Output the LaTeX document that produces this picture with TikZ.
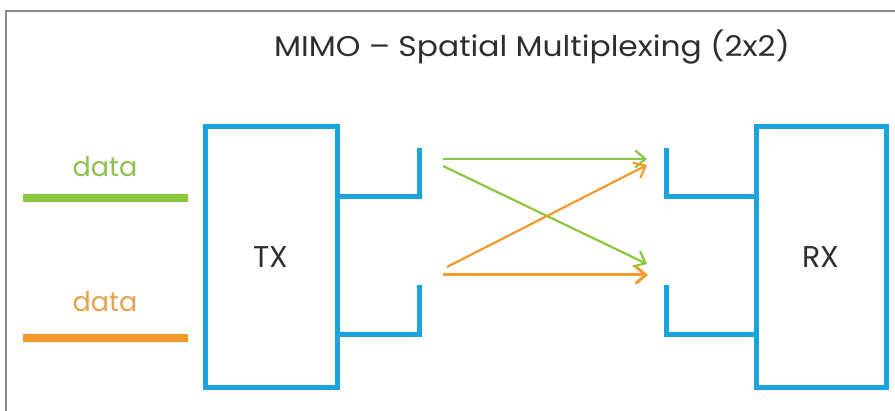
\documentclass[tikz,border=0pt]{standalone}
\usepackage{fontspec}
\setmainfont{Poppins}
\usetikzlibrary{arrows.meta}

\definecolor{boxblue}{HTML}{1CA3DE}
\definecolor{datagreen}{HTML}{8CC63F}
\definecolor{dataorange}{HTML}{F39A2C}
\definecolor{labelgreen}{HTML}{8FC052}
\definecolor{labelorange}{HTML}{E9A14A}
\definecolor{textgray}{HTML}{2E2E2E}
\definecolor{framegray}{HTML}{8C8C8C}

\tikzset{
  unitbox/.style={draw=boxblue, line width=5pt, minimum width=#1, minimum height=261pt,
                  inner sep=0pt, outer sep=0pt, font=\fontsize{30}{32}\selectfont, text=textgray},
  antenna/.style={draw=boxblue, line width=5pt, line join=miter},
  inputline/.style={line width=8pt, line cap=butt},
  datalabel/.style={font=\fontsize{27}{30}\selectfont, inner sep=0pt},
  stream/.style={line width=2.2pt, -{Straight Barb[length=10pt,width=17pt]}},
}

\begin{document}
\begin{tikzpicture}[x=1pt,y=-1pt]
  \useasboundingbox (0,0) rectangle (895,411);
  \fill[white] (0,0) rectangle (895,411);

  % outer frame
  \draw[framegray, line width=1.6pt] (6,411) -- (6,11) -- (895,11);

  % title
  \node[font=\fontsize{28.5}{32}\selectfont, text=textgray, inner sep=0pt, xscale=1.1] (title) at (532,47)
    {MIMO – Spatial Multiplexing (2x2)};

  % transmitter and receiver
  \node[unitbox=132pt] (tx) at (271,257.5) {TX};
  \node[unitbox=130pt] (rx) at (821,257.5) {RX};

  % input data streams
  \coordinate (g0) at (23,198);
  \coordinate (o0) at (23,338);
  \draw[inputline, datagreen] (g0) -- ++(165,0);
  \draw[inputline, dataorange] (o0) -- ++(165,0);
  \node[datalabel, text=labelgreen] (dl1) at (105,167) {data};
  \node[datalabel, text=labelorange] (dl2) at (105,302) {data};

  % transmit antennas
  \coordinate (ta1) at (419,148);
  \coordinate (ta2) at (419,285);
  \draw[antenna] (tx.east |- 0,197) -- (ta1 |- 0,197) -- (ta1);
  \draw[antenna] (tx.east |- 0,335) -- (ta2 |- 0,335) -- (ta2);

  % receive antennas
  \coordinate (ra1) at (666,148);
  \coordinate (ra2) at (666,285);
  \draw[antenna] (rx.west |- 0,197) -- (ra1 |- 0,197) -- (ra1);
  \draw[antenna] (rx.west |- 0,335) -- (ra2 |- 0,335) -- (ra2);

  % spatial streams
  \coordinate (s1) at (443,159);
  \coordinate (s2) at (443,166);
  \coordinate (s3) at (447,267);
  \coordinate (s4) at (443,275);
  \coordinate (e1) at (647,159);
  \coordinate (e2) at (647,264);
  \coordinate (e3) at (647,165);
  \coordinate (e4) at (648,275);
  \draw[stream, datagreen] (s1) -- (e1);
  \draw[stream, datagreen] (s2) -- (e2);
  \draw[stream, dataorange] (s3) -- (e3);
  \draw[stream, dataorange, line width=3pt] (s4) -- (e4);
\end{tikzpicture}
\end{document}
